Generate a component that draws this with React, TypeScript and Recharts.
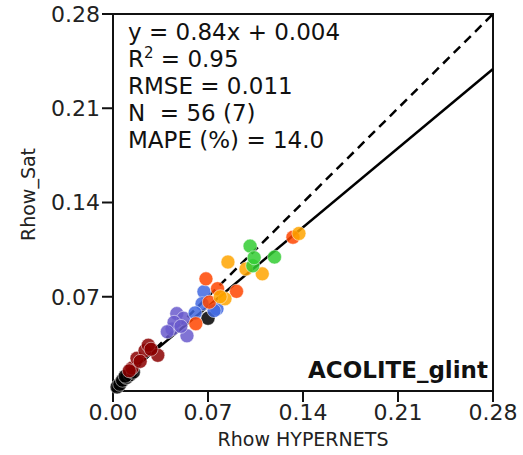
import React from 'react';
import {
    ScatterChart,
    Scatter,
    XAxis,
    YAxis,
    ReferenceLine,
    ReferenceArea,
    Customized
} from 'recharts';

// axis ticks
const xTicks = [0, 0.07, 0.14, 0.21, 0.28];
const yTicks = [0.07, 0.14, 0.21, 0.28];

// fit stats
const slope = 0.84;
const intercept = 0.004;
const statLines = ['y = 0.84x + 0.004', 'R2', 'RMSE = 0.011', 'N  = 56 (7)', 'MAPE (%) = 14.0'];

// points per station
const blackPts = [
    { x: 0.003, y: 0.003 }, { x: 0.005, y: 0.005 }, { x: 0.007, y: 0.008 }, { x: 0.010, y: 0.010 },
    { x: 0.0125, y: 0.012 }, { x: 0.009, y: 0.011 }, { x: 0.015, y: 0.014 }, { x: 0.070, y: 0.054 }
];
const darkRedPts = [
    { x: 0.014, y: 0.017 }, { x: 0.0177, y: 0.0243 }, { x: 0.0236, y: 0.030 }, { x: 0.026, y: 0.034 },
    { x: 0.033, y: 0.0265 }, { x: 0.020, y: 0.022 }, { x: 0.028, y: 0.031 }, { x: 0.012, y: 0.015 }
];
const slateBluePts = [
    { x: 0.047, y: 0.0575 }, { x: 0.052, y: 0.054 }, { x: 0.0435, y: 0.046 }, { x: 0.0545, y: 0.041 },
    { x: 0.045, y: 0.051 }, { x: 0.050, y: 0.048 }, { x: 0.040, y: 0.044 }
];
const royalBluePts = [
    { x: 0.067, y: 0.0737 }, { x: 0.0766, y: 0.061 }, { x: 0.0656, y: 0.0648 }, { x: 0.0745, y: 0.0597 },
    { x: 0.0605, y: 0.058 }
];
const orangeRedPts = [
    { x: 0.0685, y: 0.0833 }, { x: 0.077, y: 0.076 }, { x: 0.091, y: 0.074 }, { x: 0.061, y: 0.050 },
    { x: 0.1326, y: 0.1142 }, { x: 0.071, y: 0.066 }
];
const orangePts = [
    { x: 0.0847, y: 0.0958 }, { x: 0.110, y: 0.087 }, { x: 0.098, y: 0.0906 }, { x: 0.0825, y: 0.0685 },
    { x: 0.137, y: 0.117 }, { x: 0.079, y: 0.070 }
];
const greenPts = [
    { x: 0.101, y: 0.1076 }, { x: 0.119, y: 0.0995 }, { x: 0.103, y: 0.093 }, { x: 0.104, y: 0.099 }
];

const stations = [
    { name: 'black', data: blackPts, color: '#000000' },
    { name: 'darkred', data: darkRedPts, color: '#8b0000' },
    { name: 'slateblue', data: slateBluePts, color: '#6a5acd' },
    { name: 'royalblue', data: royalBluePts, color: '#4169e1' },
    { name: 'orangered', data: orangeRedPts, color: '#ff4500' },
    { name: 'orange', data: orangePts, color: '#ffa500' },
    { name: 'green', data: greenPts, color: '#32cd32' }
];

const FONT = '"DejaVu Sans", sans-serif';

const Dot = (props: any) => {
    const { cx, cy, fill } = props;
    return <circle cx={cx} cy={cy} r={7} fill={fill} fillOpacity={0.85} stroke="#fff" strokeOpacity={0.5} strokeWidth={1} />;
};

const Stats = () => (
    <g fontFamily={FONT} fontSize={23} fill="#111">
        {statLines.map((s, i) =>
            s === 'R2' ? (
                <text key={i} x={128} y={40 + i * 27}>
                    R<tspan dy={-9} fontSize={15}>2</tspan><tspan dy={9}> = 0.95</tspan>
                </text>
            ) : (
                <text key={i} x={128} y={40 + i * 27} style={{ whiteSpace: 'pre' }}>{s}</text>
            )
        )}
        <text x={488} y={378} textAnchor="end" fontWeight="bold" fontSize={23}>ACOLITE_glint</text>
    </g>
);

const YLabel = (props: any) => {
    const { viewBox } = props;
    const cx = viewBox.x + 28;
    const cy = viewBox.y + viewBox.height / 2 - 8;
    return (
        <text x={cx} y={cy} transform={`rotate(-90 ${cx} ${cy})`} textAnchor="middle" dominantBaseline="central"
            fontFamily={FONT} fontSize={19} fill="#222">Rhow_Sat</text>
    );
};

const XLabel = (props: any) => {
    const { viewBox } = props;
    return (
        <text x={viewBox.x + viewBox.width / 2} y={446} textAnchor="middle"
            fontFamily={FONT} fontSize={19} fill="#222">Rhow HYPERNETS</text>
    );
};

const App: React.FC = () => {
    const fmt = (v: number) => v.toFixed(2);
    return (
        <div style={{ position: 'absolute', left: 0, top: 0, width: 523, height: 455, background: '#fff' }}>
            <ScatterChart width={523} height={455} margin={{ top: 14, right: 30, bottom: 0, left: 0 }}>
                <XAxis type="number" dataKey="x" domain={[0, 0.28]} ticks={xTicks} tickFormatter={fmt}
                    height={64} tickSize={11} stroke="#111" strokeWidth={2}
                    tick={{ fill: '#222', fontSize: 22, fontFamily: FONT }} label={<XLabel />} />
                <YAxis type="number" dataKey="y" domain={[0, 0.28]} ticks={yTicks} tickFormatter={fmt}
                    width={113} tickSize={11} stroke="#111" strokeWidth={2}
                    tick={{ fill: '#222', fontSize: 22, fontFamily: FONT }} label={<YLabel />} />
                {stations.map(s => (
                    <Scatter key={s.name} name={s.name} data={s.data} fill={s.color} shape={<Dot />} isAnimationActive={false} />
                ))}
                <ReferenceLine segment={[{ x: 0, y: 0 }, { x: 0.28, y: 0.28 }]} stroke="#000" strokeWidth={2.5} strokeDasharray="9 6" />
                <ReferenceLine segment={[{ x: 0, y: intercept }, { x: 0.28, y: slope * 0.28 + intercept }]} stroke="#000" strokeWidth={2.5} />
                <ReferenceArea x1={0} x2={0.28} y1={0} y2={0.28} fill="none" stroke="#111" strokeWidth={2} />
                <Customized component={Stats} />
            </ScatterChart>
        </div>
    );
};

export default App;
